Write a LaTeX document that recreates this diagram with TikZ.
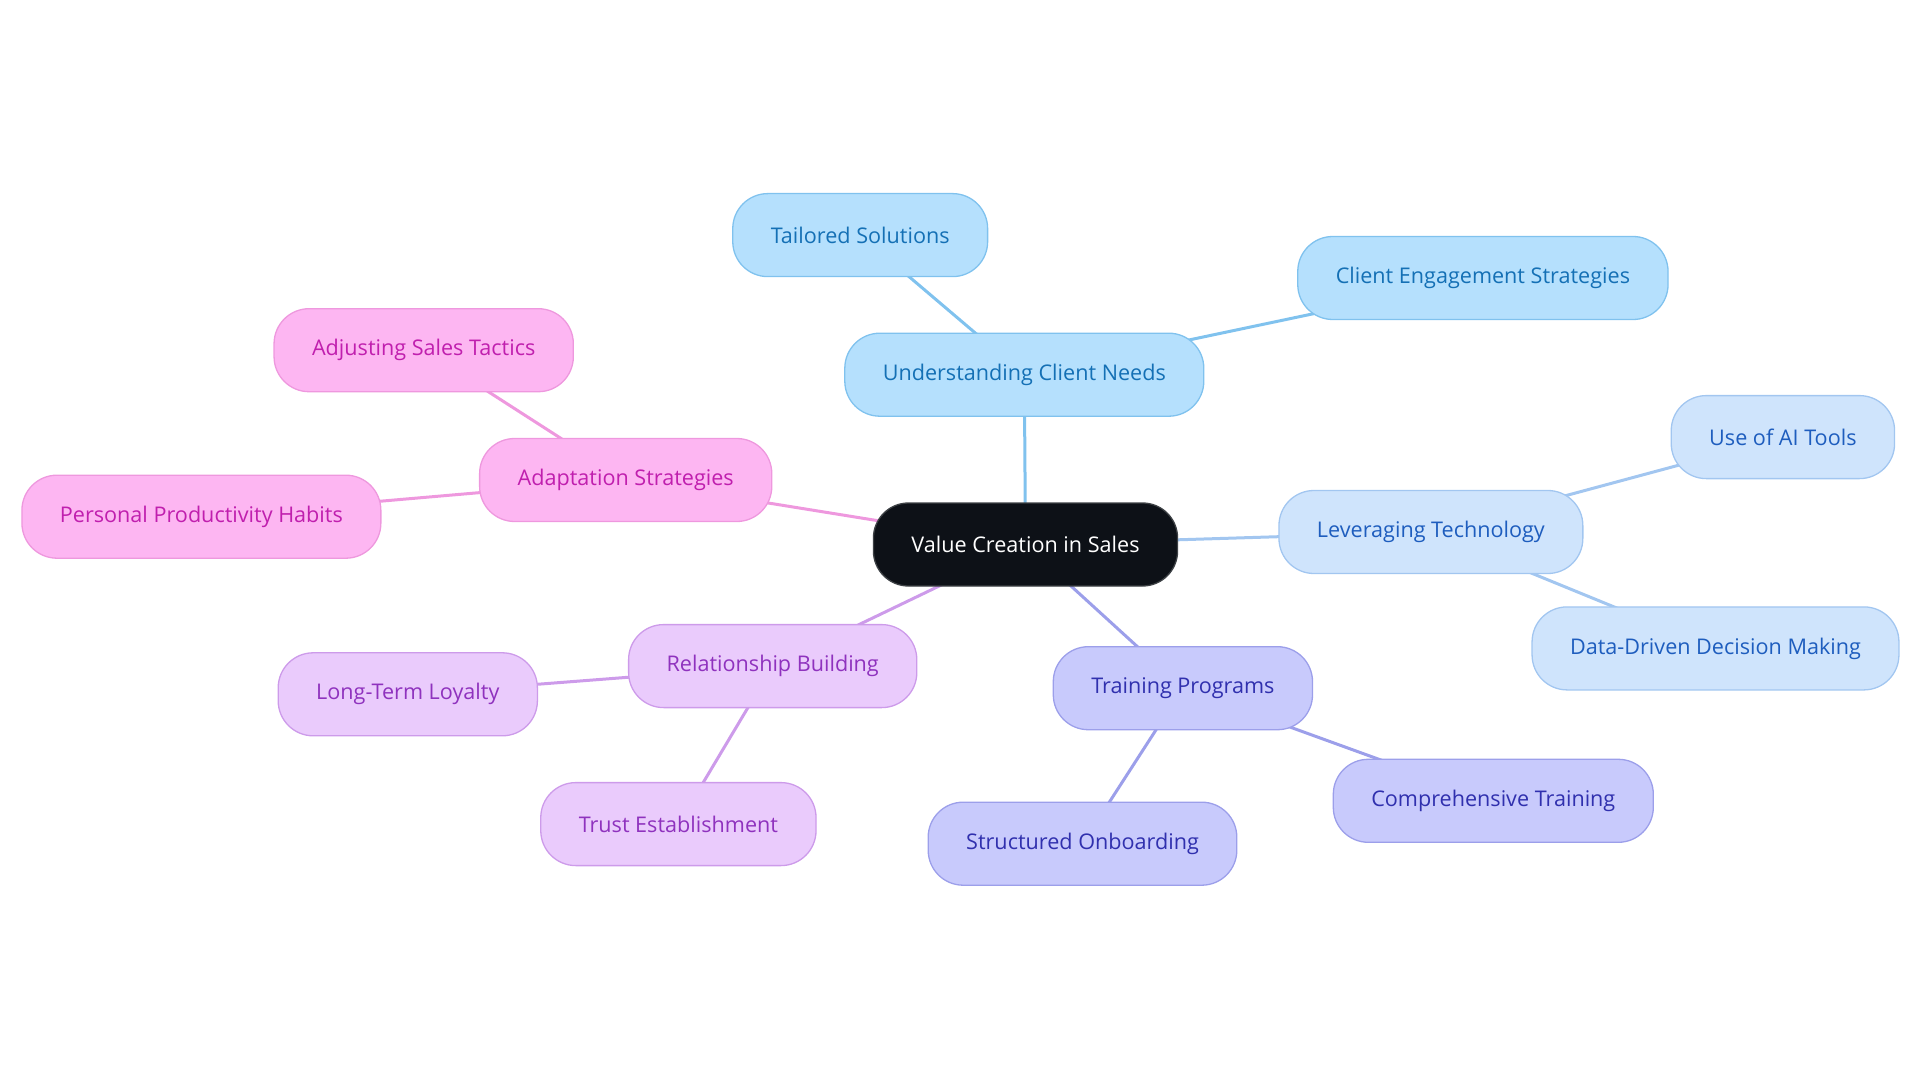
\documentclass[tikz,border=0pt]{standalone}
\usepackage{fontspec}
\setmainfont{Open Sans}
\usepackage{tikz}
\usetikzlibrary{calc,backgrounds}

\definecolor{rootfill}{HTML}{0D1117}
\definecolor{needfill}{HTML}{B5E0FD}
\definecolor{needline}{HTML}{80C2EE}
\definecolor{needtext}{HTML}{1470B5}
\definecolor{techfill}{HTML}{CFE4FC}
\definecolor{techline}{HTML}{A2C6F0}
\definecolor{techtext}{HTML}{1E5DBE}
\definecolor{trainfill}{HTML}{C8CAFC}
\definecolor{trainline}{HTML}{9C9FEA}
\definecolor{traintext}{HTML}{3030AE}
\definecolor{relfill}{HTML}{EACBFC}
\definecolor{relline}{HTML}{CD9BEA}
\definecolor{reltext}{HTML}{8F32BE}
\definecolor{adafill}{HTML}{FDB6F2}
\definecolor{adaline}{HTML}{EE98DE}
\definecolor{adatext}{HTML}{C01FAE}

\begin{document}
\begin{tikzpicture}[x=1pt,y=-1pt,
                    every node/.style={font=\fontsize{21.6}{26}\selectfont},
                    link/.style={line width=3pt}]
  \tikzstyle{idea}=[rectangle,rounded corners=35pt,line width=1.3pt,
                    minimum height=83pt,inner xsep=38pt]
  \tikzstyle{root}=[idea,fill=rootfill,draw=rootfill!80!white,text=white]
  \tikzstyle{need}=[idea,fill=needfill,draw=needline,text=needtext]
  \tikzstyle{tech}=[idea,fill=techfill,draw=techline,text=techtext]
  \tikzstyle{train}=[idea,fill=trainfill,draw=trainline,text=traintext]
  \tikzstyle{rel}=[idea,fill=relfill,draw=relline,text=reltext]
  \tikzstyle{ada}=[idea,fill=adafill,draw=adaline,text=adatext]

  \useasboundingbox (0,0) rectangle (1920,1083);

  \node[root]  (V)  at (1025.5,544.5) {Value Creation in Sales};

  \node[need]  (U)  at (1024.3,374.7) {Understanding Client Needs};
  \node[need]  (UT) at (860.2,235.1)  {Tailored Solutions};
  \node[need]  (UC) at (1482.9,278.0) {Client Engagement Strategies};

  \node[tech]  (L)  at (1430.9,532.0) {Leveraging Technology};
  \node[tech]  (LA) at (1782.9,437.1) {Use of AI Tools};
  \node[tech]  (LD) at (1715.5,648.4) {Data-Driven Decision Making};

  \node[train] (T)  at (1182.9,688.2) {Training Programs};
  \node[train] (TC) at (1493.3,800.8) {Comprehensive Training};
  \node[train] (TS) at (1082.5,843.7) {Structured Onboarding};

  \node[rel]   (R)  at (772.7,666.1)  {Relationship Building};
  \node[rel]   (RL) at (407.8,694.3)  {Long-Term Loyalty};
  \node[rel]   (RT) at (678.4,824.1)  {Trust Establishment};

  \node[ada]   (A)  at (625.7,480.0)  {Adaptation Strategies};
  \node[ada]   (AS) at (423.7,350.2)  {Adjusting Sales Tactics};
  \node[ada]   (AP) at (201.4,516.7)  {Personal Productivity Habits};

  % branches, behind the boxes
  \begin{scope}[on background layer]
    \draw[link,needline]  (V.center) -- (U.center)  (U.center) -- (UT.center)
                          (U.center) -- (UC.center);
    \draw[link,techline]  (V.center) -- (L.center)  (L.center) -- (LA.center)
                          (L.center) -- (LD.center);
    \draw[link,trainline] (V.center) -- (T.center)  (T.center) -- (TC.center)
                          (T.center) -- (TS.center);
    \draw[link,relline]   (V.center) -- (R.center)  (R.center) -- (RL.center)
                          (R.center) -- (RT.center);
    \draw[link,adaline]   (V.center) -- (A.center)  (A.center) -- (AS.center)
                          (A.center) -- (AP.center);
  \end{scope}
\end{tikzpicture}
\end{document}
